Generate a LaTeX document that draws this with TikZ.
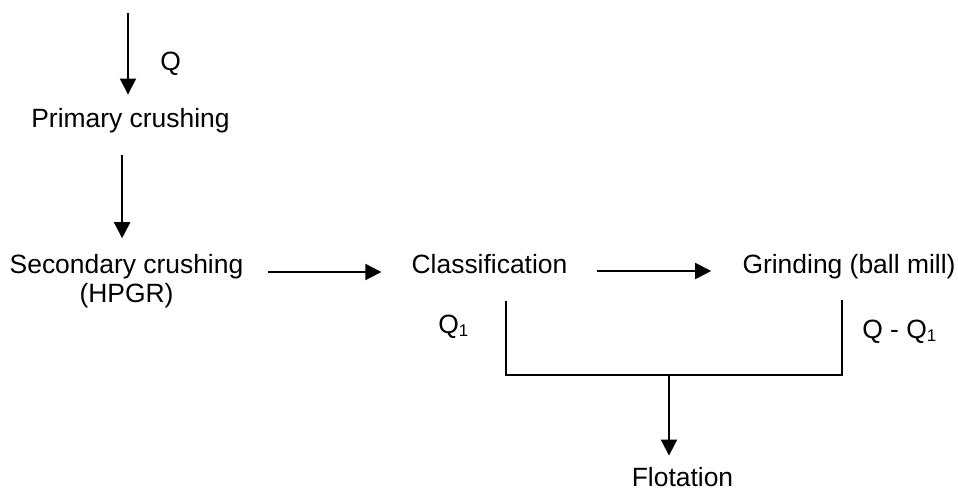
\documentclass[tikz,border=0pt]{standalone}
\usepackage{fontspec}
\setmainfont{Liberation Sans}
\usepackage{tikz}
\usetikzlibrary{arrows.meta,calc}
\newcommand\flowfont{\fontsize{18.8pt}{20pt}\selectfont}
\newcommand\lowidx[1]{\raisebox{-2.2pt}{\fontsize{12pt}{12pt}\selectfont #1}}
\tikzset{
  lbl/.style={anchor=base,inner sep=0pt,font=\flowfont},
  ln/.style={line width=1.4pt,draw=black},
  ar/.style={ln,-{Triangle[length=0.4cm,width=0.4cm]}},
}
\begin{document}
\begin{tikzpicture}[x=0.025cm,y=-0.025cm]
  \useasboundingbox (0,0) rectangle (958,491);
  \node[lbl,anchor=base west] (qin) at (160,71) {Q};
  \node[lbl] (prim) at (130.5,128) {Primary crushing};
  \node[lbl,align=center] (sec) at (126.5,302) {Secondary crushing\\(HPGR)};
  \node[lbl] (cls) at (489.5,273) {Classification};
  \node[lbl] (grd) at (849,273) {Grinding (ball mill)};
  \node[lbl,anchor=base west] (qa) at (438,333) {Q\lowidx{1}};
  \node[lbl,anchor=base west] (qb) at (862,338) {Q - Q\lowidx{1}};
  \node[lbl] (flo) at (682.5,486) {Flotation};
  \coordinate (feed) at (128,13);
  \coordinate (join) at (669,375);
  \draw[ar,shorten >=0.35cm] (feed) -- (feed |- prim.north);
  \draw[ar,shorten <=0.54cm,shorten >=0.405cm] ([xshift=-0.21cm]prim.south) -- ([xshift=-0.21cm]prim.south |- sec.north);
  \draw[ar,shorten <=0.6cm,shorten >=0.75cm] ([yshift=0.75cm]sec.base east) -- ([yshift=0.75cm]sec.base east -| cls.west);
  \draw[ar,shorten <=0.725cm,shorten >=0.775cm] ([yshift=0.05cm]cls.base east) -- ([yshift=0.05cm]cls.base east -| grd.west);
  \draw[ln] ([xshift=0.41cm,yshift=-0.675cm]cls.south) |- (join) -| ([xshift=-0.18cm,yshift=-0.54cm]grd.south);
  \draw[ar,shorten >=0.275cm] (join) -- (join |- flo.north);
\end{tikzpicture}
\end{document}
